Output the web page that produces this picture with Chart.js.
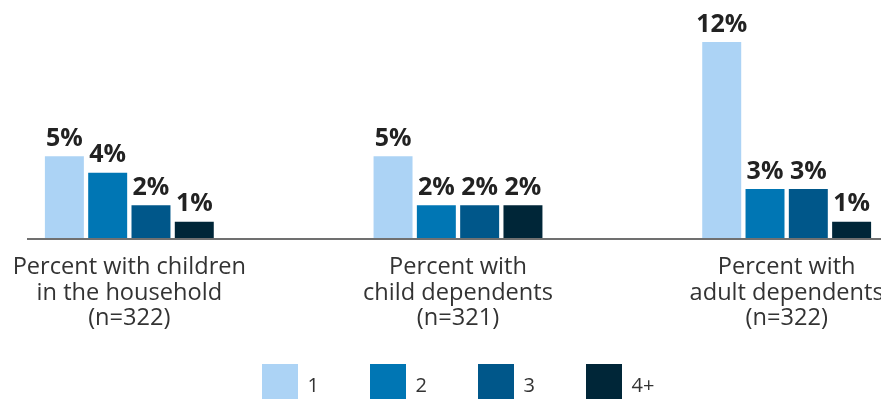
<!DOCTYPE html>
<html>
<head>
<meta charset="utf-8">
<script src="https://cdn.jsdelivr.net/npm/chart.js@4.4.1/dist/chart.umd.min.js"></script>
<style>
  body { margin: 0; background: #fff; }
  #wrap { position: relative; width: 881px; height: 399px; overflow: hidden; background: #fff; }
  #box { position: absolute; left: -35px; top: 0; width: 986px; height: 399px; }
  #legend {
    position: absolute; left: 0; right: 0; top: 364px;
    display: flex; justify-content: center; gap: 50.56px;
    font: 20px 'Open Sans'; color: #333;
  }
  #legend .item { display: flex; align-items: center; }
  #legend .swatch { width: 36px; height: 36px; margin-right: 10px; }
  #legend .text { padding-top: 5px; }
</style>
</head>
<body>
<div id="wrap">
  <div id="box">
    <canvas id="chart"></canvas>
    <div id="legend"></div>
  </div>
</div>
<script>
const categories = [
  ["Percent with children", "in the household", "(n=322)"],
  ["Percent with", "child dependents", "(n=321)"],
  ["Percent with", "adult dependents", "(n=322)"]
];
const seriesNames = ["1", "2", "3", "4+"];
const one = [5, 5, 12];
const two = [4, 2, 3];
const three = [2, 2, 3];
const fourPlus = [1, 2, 1];
const colors = ["#acd3f5", "#0076b4", "#00578a", "#002638"];

// line under the bars, starts a little in from the left edge
const AXIS_START = 62;

const barLabels = {
  id: "barLabels",
  afterDatasetsDraw(chart) {
    const ctx = chart.ctx;
    const area = chart.chartArea;
    ctx.save();
    ctx.strokeStyle = "#707070";
    ctx.lineWidth = 2;
    ctx.beginPath();
    ctx.moveTo(AXIS_START, area.bottom + 1);
    ctx.lineTo(chart.width, area.bottom + 1);
    ctx.stroke();

    ctx.font = "bold 25px 'Open Sans'";
    ctx.fillStyle = "#222";
    ctx.textAlign = "center";
    ctx.textBaseline = "alphabetic";
    chart.data.datasets.forEach((ds, i) => {
      chart.getDatasetMeta(i).data.forEach((bar, j) => {
        ctx.fillText(ds.data[j] + "%", bar.x, bar.y - 10.5);
      });
    });
    ctx.restore();
  }
};

const values = [one, two, three, fourPlus];

const chart = new Chart(document.getElementById("chart"), {
  type: "bar",
  data: {
    labels: categories,
    datasets: seriesNames.map((name, i) => ({
      label: name,
      data: values[i],
      backgroundColor: colors[i],
      categoryPercentage: 0.527,
      barPercentage: 0.9
    }))
  },
  options: {
    responsive: true,
    maintainAspectRatio: false,
    animation: false,
    layout: { padding: { top: 42, left: 0, right: 0, bottom: 0 } },
    scales: {
      x: {
        grid: { display: false, drawTicks: false },
        border: { display: false },
        ticks: {
          color: "#333",
          padding: 17,
          maxRotation: 0,
          font: { family: "'Open Sans'", size: 23.6, lineHeight: 1.075 }
        },
        afterFit(scale) { scale.height = 161; }
      },
      y: { display: false, min: 0, max: 12 }
    },
    plugins: {
      tooltip: { enabled: false },
      legend: { display: false }
    }
  },
  plugins: [barLabels]
});

// legend built from the datasets
const legend = document.getElementById("legend");
chart.data.datasets.forEach(ds => {
  const item = document.createElement("div");
  item.className = "item";
  const sw = document.createElement("span");
  sw.className = "swatch";
  sw.style.background = ds.backgroundColor;
  const txt = document.createElement("span");
  txt.className = "text";
  txt.textContent = ds.label;
  item.appendChild(sw);
  item.appendChild(txt);
  legend.appendChild(item);
});
</script>
</body>
</html>
